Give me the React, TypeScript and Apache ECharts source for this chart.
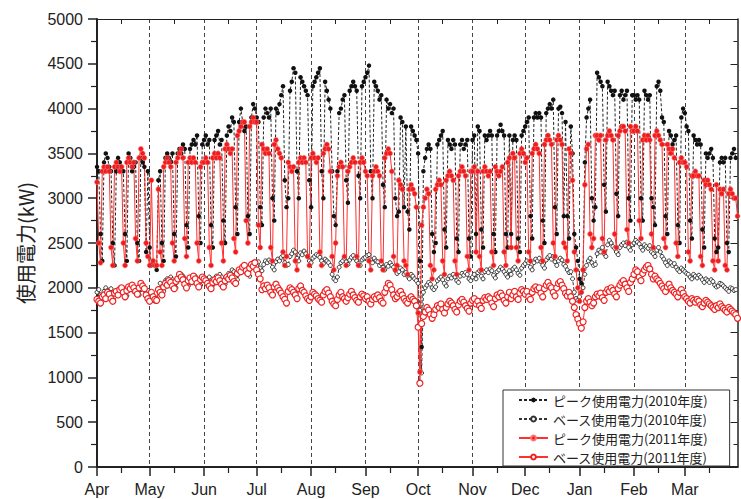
import React, { useEffect, useRef } from "react";
import * as echarts from "echarts";

const monthNames = ["Apr", "May", "Jun", "Jul", "Aug", "Sep", "Oct", "Nov", "Dec", "Jan", "Feb", "Mar"];
const monthDays = [30, 31, 30, 31, 31, 30, 31, 30, 31, 31, 29, 31];

const seriesNames = [
  "ピーク使用電力(2010年度)",
  "ベース使用電力(2010年度)",
  "ピーク使用電力(2011年度)",
  "ベース使用電力(2011年度)",
];

// Daily peak power, FY2010 (Apr 2010 - Mar 2011)
const peak2010 = [
  3350, 3300, 2600, 2300, 3400, 3500, 3450, 3350, 3300, 2500, 2250, 3300, 3450, 3400, 3350, 3300, 2600, 2300, 3500, 3450, 3300, 3350, 3400, 2500, 2300, 3450, 3400, 3350, 2400, 3300,
  2450, 2250, 2300, 2250, 2200, 3200, 3300, 2500, 2300, 3450, 3500, 3450, 3400, 3500, 2600, 2350, 3500, 3550, 3500, 3600, 3550, 2700, 2450, 3550, 3600, 3650, 3600, 3700, 2800, 2500, 3600,
  3650, 3700, 3600, 3650, 2700, 2450, 3650, 3700, 3750, 3600, 3650, 2750, 2500, 3700, 3800, 3750, 3900, 3850, 2900, 2600, 3850, 4000, 3850, 3750, 3800, 2800, 2600, 3900, 4050, 4000,
  3900, 3850, 2900, 2700, 3900, 4000, 3950, 3900, 4000, 3000, 2750, 4000, 3950, 4050, 4150, 4250, 3200, 2900, 3000, 4200, 4300, 4450, 4400, 3300, 3000, 4350, 4300, 4250, 4200, 4150, 3200,
  2900, 4250, 4300, 4350, 4400, 4450, 3300, 3000, 4300, 4200, 4100, 4000, 3300, 2800, 2700, 3300, 3950, 4000, 4100, 4150, 3200, 2950, 4200, 4250, 4300, 4250, 4200, 3250, 3000, 4250, 4300,
  4350, 4400, 4480, 3300, 3000, 4300, 4250, 4200, 4100, 4150, 3150, 2900, 4100, 4000, 4050, 3950, 4000, 3000, 2800, 2850, 3900, 3850, 2900, 3800, 2850, 2650, 3800, 3750, 3700, 3650,
  3500, 2300, 1340, 3300, 3450, 3550, 3600, 3550, 2600, 2400, 2500, 3600, 3650, 3700, 3750, 2650, 2450, 3650, 3600, 3550, 3650, 3600, 2550, 2400, 3600, 3650, 3550, 3600, 3650, 2550, 2350,
  3650, 3700, 2600, 3800, 3750, 2650, 2450, 3700, 3650, 3700, 3750, 3700, 2600, 2400, 3700, 3750, 3820, 3750, 3700, 2600, 2450, 3700, 2600, 3650, 3700, 3650, 2550, 2400, 3700, 3750,
  3800, 3850, 3900, 2800, 2550, 3900, 3950, 3900, 3950, 3900, 2750, 2500, 3950, 4000, 4050, 4000, 4100, 2900, 2600, 4000, 4020, 3950, 2800, 3850, 2800, 2550, 3800, 3500, 2600, 2450, 2300,
  2100, 2050, 2200, 3400, 3900, 4000, 4100, 3000, 2750, 2900, 4400, 4350, 4300, 4250, 3150, 2850, 4300, 4250, 4200, 4150, 4200, 3050, 2800, 4150, 4200, 4100, 4150, 4200, 3000, 2750, 4150,
  4150, 4100, 4150, 4100, 3000, 2750, 4200, 4150, 4100, 4150, 3000, 2900, 2700, 4250, 4300, 4200, 3900, 3850, 2800, 2600, 3750, 3700, 3600, 3650, 3700, 2700, 2500, 3900,
  4000, 3950, 3800, 3750, 2750, 2550, 3700, 3650, 3600, 3650, 3600, 2650, 2450, 3500, 3450, 3500, 3550, 3450, 2550, 2400, 2450, 3400, 3450, 3400, 3450, 2500, 2400, 3450, 3500, 3550, 3450,
];

// Daily base power, FY2010
const base2010 = [
  1950, 1980, 1920, 1900, 1960, 2000, 1970, 1940, 1990, 1930, 1900, 1950, 1980, 2000, 1960, 1990, 1940, 1910, 1970, 2010, 1990, 1960, 2000, 1950, 1920, 1980, 2020, 2000, 1950, 1970,
  1940, 1900, 1860, 1850, 1880, 1990, 2050, 2000, 1960, 2080, 2100, 2060, 2120, 2090, 2040, 2000, 2080, 2110, 2150, 2130, 2100, 2050, 2020, 2090, 2110, 2080, 2130, 2100, 2060, 2030, 2100,
  2080, 2100, 2070, 2120, 2050, 2030, 2090, 2130, 2100, 2150, 2120, 2080, 2040, 2110, 2160, 2140, 2200, 2180, 2120, 2090, 2170, 2220, 2200, 2180, 2230, 2160, 2130, 2250, 2280, 2260,
  2240, 2290, 2220, 2190, 2260, 2300, 2280, 2310, 2290, 2230, 2200, 2290, 2320, 2300, 2340, 2360, 2280, 2250, 2260, 2350, 2380, 2420, 2400, 2330, 2300, 2390, 2370, 2410, 2380, 2350, 2300,
  2280, 2330, 2350, 2370, 2360, 2340, 2300, 2270, 2320, 2300, 2280, 2250, 2150, 2100, 2080, 2120, 2230, 2280, 2300, 2330, 2290, 2260, 2310, 2340, 2360, 2330, 2300, 2270, 2250, 2310, 2330,
  2340, 2360, 2370, 2310, 2280, 2330, 2300, 2290, 2250, 2270, 2230, 2200, 2260, 2240, 2280, 2250, 2230, 2190, 2160, 2180, 2220, 2200, 2150, 2170, 2130, 2100, 2150, 2130, 2100, 2080,
  2050, 1750, 1050, 1950, 2000, 2030, 2060, 2040, 2000, 1980, 2010, 2080, 2100, 2120, 2090, 2050, 2020, 2100, 2130, 2110, 2150, 2120, 2080, 2060, 2130, 2160, 2140, 2170, 2150, 2100, 2080,
  2120, 2150, 2100, 2170, 2190, 2130, 2100, 2180, 2200, 2170, 2210, 2190, 2140, 2110, 2180, 2200, 2230, 2210, 2180, 2150, 2120, 2190, 2150, 2210, 2230, 2200, 2160, 2140, 2220, 2250,
  2270, 2300, 2280, 2230, 2200, 2280, 2320, 2300, 2330, 2290, 2250, 2220, 2310, 2340, 2360, 2320, 2350, 2290, 2250, 2300, 2330, 2310, 2260, 2240, 2200, 2170, 2180, 2100, 1950, 1880, 1860,
  1900, 1950, 2000, 2150, 2250, 2300, 2330, 2280, 2250, 2260, 2380, 2420, 2400, 2450, 2380, 2350, 2480, 2530, 2500, 2460, 2440, 2400, 2370, 2450, 2480, 2500, 2470, 2510, 2450, 2420, 2480,
  2500, 2530, 2510, 2490, 2450, 2420, 2480, 2460, 2440, 2470, 2400, 2380, 2350, 2420, 2450, 2400, 2350, 2320, 2280, 2250, 2300, 2280, 2250, 2270, 2230, 2200, 2180, 2220,
  2200, 2180, 2160, 2150, 2120, 2100, 2150, 2130, 2110, 2140, 2120, 2090, 2060, 2100, 2080, 2060, 2090, 2070, 2030, 2010, 2020, 2050, 2040, 2020, 2000, 1980, 1960, 2000, 1990, 1970, 1980,
];

// Daily peak power, FY2011 (Apr 2011 - Mar 2012)
const peak2011 = [
  3180, 2500, 2280, 3300, 3350, 3300, 3350, 3300, 2450, 2250, 3350, 3400, 3350, 3300, 3350, 2500, 2250, 3400, 3450, 3400, 3350, 3400, 2550, 2300, 3450, 3550, 3500, 3450, 2500, 2350,
  2250, 3200, 2300, 2250, 2250, 3100, 2400, 2250, 3350, 3400, 3450, 3400, 3350, 2500, 2300, 3400, 3450, 3500, 3550, 3450, 2550, 2350, 3400, 3450, 3400, 3450, 3400, 2500, 2300, 3350, 3400,
  3400, 3450, 3400, 2450, 2250, 3450, 3500, 3450, 3500, 3450, 2500, 2300, 3550, 3600, 3550, 3500, 3550, 2550, 2400, 3700, 3750, 3800, 3850, 3850, 2750, 2500, 3800, 3850, 3900, 3850,
  3850, 2700, 2450, 3600, 3550, 3500, 3550, 3500, 2450, 2300, 3600, 3650, 3550, 3500, 3450, 2400, 2250, 2350, 3400, 3350, 3300, 3350, 2300, 2200, 3400, 3450, 3400, 3450, 3400, 2350, 2250,
  3450, 3500, 3450, 3400, 3450, 2400, 2250, 3500, 3550, 3600, 3550, 3300, 2350, 2200, 2500, 3250, 3350, 3400, 3350, 2350, 2250, 3300, 3350, 3400, 3450, 3400, 2350, 2250, 3400, 3450, 3400,
  3300, 3250, 2300, 2200, 3250, 3300, 3350, 3300, 3250, 2300, 2200, 3450, 3500, 3550, 3500, 3300, 2350, 2200, 2250, 3200, 3150, 3100, 2300, 2250, 2150, 3100, 3150, 3100, 3050, 2900,
  1720, 1060, 2700, 2900, 3000, 3100, 3050, 2250, 2100, 2200, 3100, 3150, 3200, 3150, 2300, 2150, 3200, 3250, 3300, 3250, 3200, 2300, 2150, 3250, 3300, 3350, 3300, 3250, 2350, 2200, 3300,
  3300, 3350, 2400, 3300, 2350, 2200, 3300, 3350, 3300, 3250, 3300, 2400, 2250, 3350, 3300, 3250, 3300, 3350, 2400, 2250, 3400, 3450, 2450, 3500, 3450, 2450, 2300, 3500, 3550, 3500,
  3400, 3450, 2400, 2300, 3500, 3550, 3600, 3550, 3500, 2450, 2300, 3600, 3650, 3700, 3650, 3600, 2500, 2350, 3650, 3700, 3650, 3600, 2500, 2450, 2300, 3550, 3500, 3200, 2400, 2200, 2000,
  1850, 1950, 2200, 3150, 3550, 3600, 2600, 2450, 2550, 3700, 3700, 3650, 3700, 2550, 2400, 3650, 3700, 3750, 3700, 3650, 2600, 2450, 3700, 3750, 3800, 3800, 3750, 2650, 2500, 3800, 3750,
  3750, 3800, 3750, 2750, 2550, 3650, 3700, 3650, 3700, 3650, 2600, 2450, 3700, 3750, 3700, 3650, 3600, 2550, 2450, 3600, 3550, 3500, 3550, 3450, 2500, 2350, 3400, 3450, 3400,
  3400, 3350, 2400, 2300, 3250, 3250, 3300, 3250, 3250, 2350, 2250, 3200, 3150, 3200, 3150, 3100, 2300, 2200, 3150, 2300, 3100, 3050, 3100, 2250, 2200, 3050, 3100, 3050, 3000, 3000, 2800,
];

// Daily base power, FY2011
const base2011 = [
  1870, 1850, 1830, 1900, 1920, 1880, 1950, 1930, 1880, 1850, 1940, 1960, 1920, 1980, 2000, 1950, 1900, 1970, 2010, 1990, 2030, 2000, 1960, 1930, 2000, 2050, 2020, 1990, 1920, 1880,
  1850, 1950, 1900, 1870, 1860, 1980, 1950, 1920, 2010, 2050, 2030, 2080, 2060, 2020, 1990, 2070, 2100, 2150, 2120, 2090, 2040, 2000, 2080, 2110, 2070, 2130, 2100, 2050, 2010, 2090, 2120,
  2100, 2080, 2050, 2020, 1990, 2060, 2090, 2070, 2110, 2080, 2040, 2010, 2080, 2120, 2100, 2140, 2110, 2070, 2050, 2160, 2200, 2180, 2230, 2250, 2190, 2160, 2220, 2260, 2240, 2280,
  2200, 2150, 2100, 1980, 2020, 1990, 2030, 2000, 1950, 1920, 2010, 2040, 2000, 1970, 1940, 1900, 1870, 1830, 1960, 2000, 1980, 1950, 1920, 1880, 1990, 2020, 1970, 1950, 1910, 1880, 1860,
  1900, 1950, 1930, 1910, 1880, 1860, 1840, 1920, 1960, 1980, 1940, 1900, 1850, 1820, 1800, 1870, 1920, 1950, 1900, 1880, 1850, 1890, 1930, 1960, 1920, 1890, 1860, 1840, 1900, 1930, 1910,
  1880, 1900, 1850, 1820, 1870, 1900, 1880, 1920, 1890, 1850, 1830, 1950, 2000, 2050, 2030, 1980, 1920, 1880, 1900, 1940, 1960, 1920, 1880, 1850, 1830, 1880, 1900, 1870, 1850, 1800,
  1560, 935, 1600, 1680, 1730, 1780, 1750, 1700, 1660, 1700, 1760, 1800, 1780, 1820, 1760, 1720, 1780, 1820, 1850, 1830, 1800, 1760, 1730, 1810, 1850, 1870, 1840, 1800, 1770, 1740, 1830,
  1860, 1880, 1820, 1850, 1800, 1770, 1860, 1890, 1870, 1900, 1880, 1830, 1790, 1880, 1920, 1900, 1940, 1910, 1860, 1830, 1900, 1950, 1880, 1920, 1960, 1900, 1870, 1940, 1980, 1960,
  1930, 1960, 1900, 1870, 1950, 1990, 2010, 1980, 2000, 1940, 1900, 1990, 2030, 2060, 2020, 2000, 1950, 1910, 2000, 2050, 2070, 2030, 1990, 1940, 1910, 1950, 1900, 1850, 1780, 1700, 1650,
  1600, 1550, 1620, 1780, 1850, 1880, 1840, 1800, 1830, 1900, 1930, 1910, 1940, 1890, 1860, 1950, 1980, 1960, 2000, 1970, 1930, 1900, 1990, 2030, 2060, 2080, 2040, 2000, 1960, 2060, 2100,
  2150, 2200, 2180, 2120, 2080, 2160, 2200, 2230, 2250, 2210, 2150, 2100, 2130, 2100, 2080, 2050, 2020, 1990, 1960, 2010, 2040, 2000, 1970, 1950, 1930, 1900, 1950, 1980, 1940,
  1900, 1880, 1850, 1830, 1880, 1860, 1840, 1870, 1850, 1810, 1790, 1830, 1860, 1840, 1820, 1800, 1780, 1760, 1800, 1780, 1820, 1790, 1770, 1750, 1730, 1780, 1760, 1740, 1720, 1700, 1660,
];

// Build daily categories (one per day of the fiscal year)
const categories: string[] = [];
const monthStartIdx = new Set<number>();
const monthMidIdx = new Set<number>();
{
  let idx = 0;
  monthNames.forEach((m, i) => {
    monthStartIdx.add(idx);
    monthMidIdx.add(idx + 14);
    for (let d = 1; d <= monthDays[i]; d++) categories.push(`${m} ${d}`);
    idx += monthDays[i];
  });
}

const AXIS = "#222";
const LATIN = "'Liberation Sans', Arial, sans-serif";
const CJK = "'Noto Sans CJK JP', sans-serif";

export default function App() {
  const ref = useRef<HTMLDivElement>(null);
  useEffect(() => {
    if (!ref.current) return;
    const chart = echarts.init(ref.current, undefined, { renderer: "svg" });
    const catAxisBase = {
      type: "category" as const,
      data: categories,
      boundaryGap: false,
    };
    chart.setOption({
      animation: false,
      backgroundColor: "#fff",
      grid: { left: 97, right: 3.5, top: 19, bottom: 32, containLabel: false },
      legend: {
        data: seriesNames,
        orient: "vertical",
        left: 503,
        top: 390,
        itemWidth: 29,
        itemHeight: 6,
        itemGap: 3,
        padding: [2, 22, 1, 15],
        backgroundColor: "#fff",
        borderColor: "#333",
        borderWidth: 1,
        textStyle: { fontSize: 13, fontFamily: CJK, color: "#222", lineHeight: 16 },
      },
      xAxis: [
        {
          ...catAxisBase,
          position: "bottom",
          axisLine: { onZero: false, lineStyle: { color: AXIS, width: 2 } },
          axisTick: {
            interval: (i: number) => monthStartIdx.has(i),
            length: 9,
            lineStyle: { color: AXIS, width: 1.5 },
          },
          axisLabel: {
            interval: (i: number) => monthStartIdx.has(i),
            formatter: (v: string) => v.split(" ")[0],
            fontSize: 16,
            fontFamily: LATIN,
            color: "#222",
            margin: 14,
          },
          splitLine: {
            show: true,
            interval: (i: number) => monthStartIdx.has(i) && i > 0,
            lineStyle: { color: "#444", width: 1, type: [4, 3] },
          },
        },
        {
          ...catAxisBase,
          position: "bottom",
          axisLine: { show: false, onZero: false },
          axisTick: {
            interval: (i: number) => monthMidIdx.has(i),
            length: 6,
            lineStyle: { color: AXIS, width: 1.2 },
          },
          axisLabel: { show: false },
          splitLine: { show: false },
        },
        {
          ...catAxisBase,
          position: "top",
          axisLine: { onZero: false, lineStyle: { color: AXIS, width: 1.2 } },
          axisTick: {
            inside: true,
            interval: (i: number) => monthMidIdx.has(i),
            length: 5,
            lineStyle: { color: AXIS, width: 1 },
          },
          axisLabel: { show: false },
          splitLine: { show: false },
        },
      ],
      yAxis: [
        {
          type: "value",
          min: 0,
          max: 5000,
          interval: 500,
          position: "left",
          name: "使用電力(kW)",
          nameLocation: "middle",
          nameGap: 62,
          nameTextStyle: { fontSize: 20, fontFamily: CJK, color: "#222" },
          axisLine: { show: true, onZero: false, lineStyle: { color: AXIS, width: 2 } },
          axisTick: { show: true, length: 9, lineStyle: { color: AXIS, width: 1.5 } },
          minorTick: { show: true, splitNumber: 2, length: 6, lineStyle: { color: AXIS, width: 1.2 } },
          axisLabel: {
            fontSize: 16,
            fontFamily: LATIN,
            color: "#222",
            margin: 14,
            formatter: (v: number) => String(v),
          },
          splitLine: { show: false },
        },
        {
          type: "value",
          min: 0,
          max: 5000,
          interval: 500,
          position: "right",
          axisLine: { show: true, onZero: false, lineStyle: { color: AXIS, width: 1.5 } },
          axisTick: { show: true, inside: true, length: 7, lineStyle: { color: AXIS, width: 1 } },
          minorTick: { show: true, splitNumber: 2, length: 4, lineStyle: { color: AXIS, width: 1 } },
          axisLabel: { show: false },
          splitLine: { show: false },
        },
      ],
      series: [
        {
          name: seriesNames[0],
          type: "line",
          data: peak2010,
          xAxisIndex: 0,
          yAxisIndex: 0,
          symbol: "circle",
          symbolSize: 4.5,
          showAllSymbol: true,
          itemStyle: { color: "#111" },
          lineStyle: { color: "#222", width: 1, type: [3, 2] },
        },
        {
          name: seriesNames[1],
          type: "line",
          data: base2010,
          xAxisIndex: 0,
          yAxisIndex: 0,
          symbol: "circle",
          symbolSize: 4,
          showAllSymbol: true,
          itemStyle: { color: "#fff", borderColor: "#333", borderWidth: 1 },
          lineStyle: { color: "#333", width: 1, type: [3, 2] },
        },
        {
          name: seriesNames[2],
          type: "line",
          data: peak2011,
          xAxisIndex: 0,
          yAxisIndex: 0,
          symbol: "circle",
          symbolSize: 5,
          showAllSymbol: true,
          itemStyle: { color: "#ee1d1d", borderColor: "#ff7070", borderWidth: 0.6 },
          lineStyle: { color: "#ff3030", width: 1 },
        },
        {
          name: seriesNames[3],
          type: "line",
          data: base2011,
          xAxisIndex: 0,
          yAxisIndex: 0,
          symbol: "circle",
          symbolSize: 6,
          showAllSymbol: true,
          itemStyle: { color: "#fff", borderColor: "#ee2222", borderWidth: 1.2 },
          lineStyle: { color: "#ff3030", width: 1 },
        },
      ],
    });
    return () => chart.dispose();
  }, []);
  return (
    <div
      ref={ref}
      style={{ position: "fixed", left: 0, top: 0, width: 741, height: 499, background: "#fff" }}
    />
  );
}
